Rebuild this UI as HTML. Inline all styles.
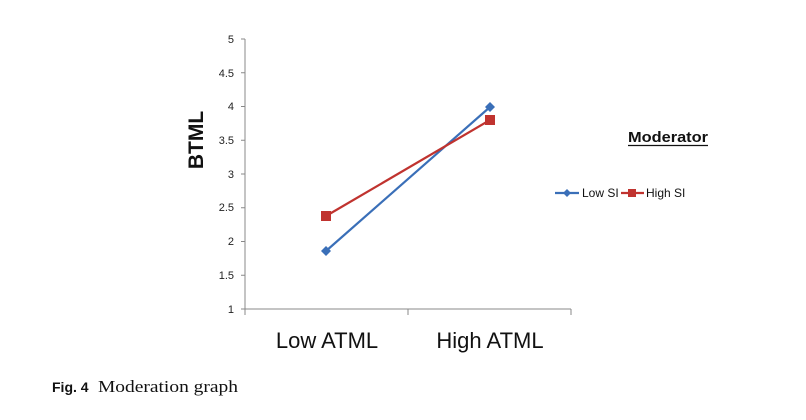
<!DOCTYPE html>
<html><head><style>body{margin:0;background:#fff}</style></head><body>
<svg width="806" height="420" xmlns="http://www.w3.org/2000/svg" style="display:block">
<g stroke="#888" stroke-width="1" fill="none">
<line x1="245" y1="39" x2="245" y2="315"/>
<line x1="245" y1="309" x2="571" y2="309"/>
<line x1="408" y1="309" x2="408" y2="315"/>
<line x1="571" y1="309" x2="571" y2="315"/>
<line x1="241" y1="39" x2="245" y2="39"/><line x1="241" y1="72.75" x2="245" y2="72.75"/>
<line x1="241" y1="106.5" x2="245" y2="106.5"/><line x1="241" y1="140.25" x2="245" y2="140.25"/>
<line x1="241" y1="174" x2="245" y2="174"/><line x1="241" y1="207.75" x2="245" y2="207.75"/>
<line x1="241" y1="241.5" x2="245" y2="241.5"/><line x1="241" y1="275.25" x2="245" y2="275.25"/>
<line x1="241" y1="309" x2="245" y2="309"/>
</g>
<g font-family="Liberation Sans, sans-serif" font-size="11" fill="#222" text-anchor="end">
<text x="234" y="43">5</text><text x="234" y="77">4.5</text><text x="234" y="110">4</text>
<text x="234" y="144">3.5</text><text x="234" y="178">3</text><text x="234" y="211">2.5</text>
<text x="234" y="245">2</text><text x="234" y="279">1.5</text><text x="234" y="313">1</text>
</g>
<text transform="translate(203,140) rotate(-90)" text-anchor="middle" font-family="Liberation Sans, sans-serif" font-weight="bold" font-size="21" fill="#111">BTML</text>
<g font-family="Liberation Sans, sans-serif" font-size="22" fill="#111" text-anchor="middle">
<text x="327" y="348">Low ATML</text><text x="490" y="348">High ATML</text>
</g>
<polyline points="326,251 490,107" stroke="#3a6fb8" stroke-width="2.2" fill="none"/>
<polyline points="326,216 490,120" stroke="#c0332f" stroke-width="2.2" fill="none"/>
<path d="M326,246 L331,251 L326,256 L321,251Z" fill="#3a6fb8"/>
<path d="M490,102 L495,107 L490,112 L485,107Z" fill="#3a6fb8"/>
<rect x="321" y="211" width="10" height="10" fill="#c0332f"/>
<rect x="485" y="115" width="10" height="10" fill="#c0332f"/>
<text x="628" y="142" font-family="Liberation Sans, sans-serif" font-weight="bold" font-size="15" fill="#111" textLength="80" lengthAdjust="spacingAndGlyphs">Moderator</text>
<line x1="628" y1="145.5" x2="708" y2="145.5" stroke="#111" stroke-width="1.2"/>
<line x1="555" y1="193" x2="579" y2="193" stroke="#3a6fb8" stroke-width="2.2"/>
<path d="M567,189 L571,193 L567,197 L563,193Z" fill="#3a6fb8"/>
<text x="582" y="197" font-family="Liberation Sans, sans-serif" font-size="12" fill="#111">Low SI</text>
<line x1="621" y1="193" x2="644" y2="193" stroke="#c0332f" stroke-width="2.2"/>
<rect x="628" y="189" width="8" height="8" fill="#c0332f"/>
<text x="646" y="197" font-family="Liberation Sans, sans-serif" font-size="12" fill="#111">High SI</text>
<text x="52" y="392" font-family="Liberation Sans, sans-serif" font-weight="bold" font-size="14" fill="#111">Fig. 4</text>
<text x="98" y="392" font-family="Liberation Serif, serif" font-size="17" fill="#111" textLength="140" lengthAdjust="spacingAndGlyphs">Moderation graph</text>
</svg>
</body></html>
